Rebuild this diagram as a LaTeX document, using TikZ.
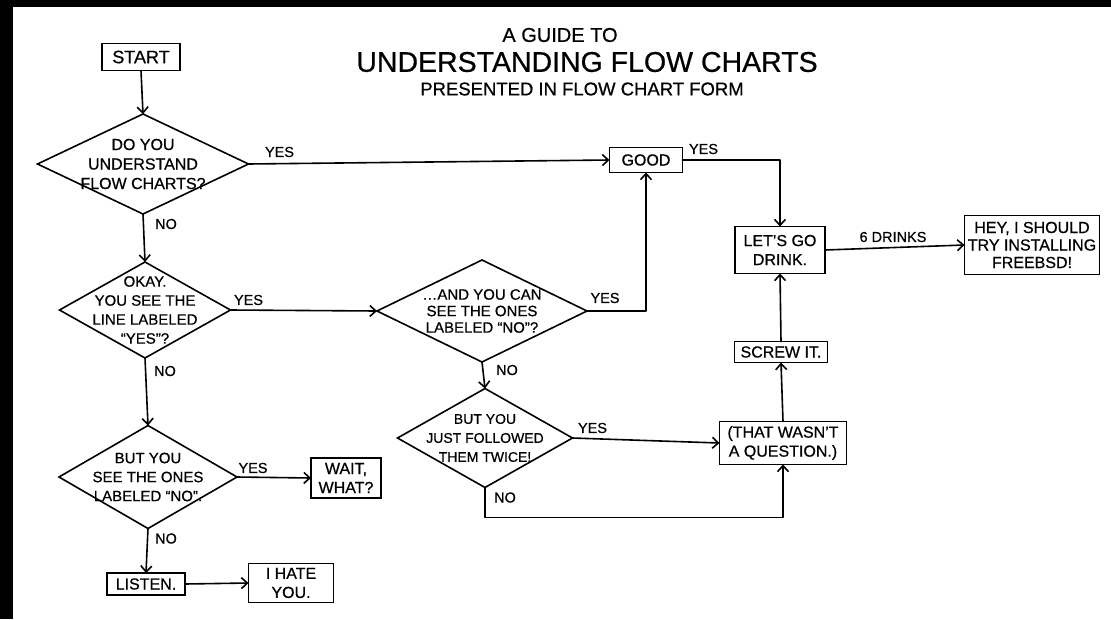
\documentclass[tikz,border=0pt]{standalone}
\usepackage{fontspec}
\setmainfont[FakeBold=0.6]{Liberation Sans}
\usetikzlibrary{arrows.meta,shapes.geometric}
\begin{document}
\begin{tikzpicture}[x=1pt,y=-1pt,
  every node/.style={text=black},
  box/.style={draw, line width=1.6pt, inner sep=0pt, outer sep=0pt, align=center, font=\fontsize{16}{19}\selectfont},
  dia/.style={draw, shape=diamond, line width=1.6pt, inner sep=0pt, outer sep=0pt},
  dtext/.style={align=center, inner sep=0pt, font=\fontsize{15}{19}\selectfont},
  lab/.style={font=\fontsize{14.5}{17}\selectfont, inner sep=0pt},
  conn/.style={line width=1.6pt, line cap=round, line join=round, -{Straight Barb[length=6pt,width=11pt]}}]
\useasboundingbox (0,0) rectangle (1111,619);
\fill[white] (0,0) rectangle (1111,619);
\fill[black] (0,0) rectangle (1111,7);
\fill[black] (0,0) rectangle (13,619);

% titles
\node[font=\fontsize{20}{24}\selectfont] (t1) at (560,35) {A GUIDE TO};
\node[font=\fontsize{28.5}{32}\selectfont] (t2) at (587,62) {UNDERSTANDING FLOW CHARTS};
\node[font=\fontsize{18.5}{22}\selectfont] (t3) at (582,89) {PRESENTED IN FLOW CHART FORM};

% boxes
\node[box, minimum width=78pt, minimum height=27pt, font=\fontsize{18}{20}\selectfont] (start) at (141,57) {START};
\node[box, minimum width=73pt, minimum height=25pt] (good) at (646,160) {GOOD};
\node[box, minimum width=90pt, minimum height=47pt] (drink) at (780,250) {LET’S GO\\DRINK.};
\node[box, minimum width=135pt, minimum height=59pt, font=\fontsize{16}{17.5}\selectfont] (hey) at (1032,245) {HEY, I SHOULD\\TRY INSTALLING\\FREEBSD!};
\node[box, minimum width=93pt, minimum height=21pt] (screw) at (781,352) {SCREW IT.};
\node[box, minimum width=127pt, minimum height=43pt] (that) at (783,443) {(THAT WASN’T\\A QUESTION.)};
\node[box, minimum width=70pt, minimum height=40pt] (wait) at (346,478) {WAIT,\\WHAT?};
\node[box, minimum width=78pt, minimum height=22pt] (listen) at (146,584) {LISTEN.};
\node[box, minimum width=85pt, minimum height=39pt] (hate) at (291,583) {I HATE\\YOU.};

% diamonds
\node[dia, minimum width=211pt, minimum height=100pt,
  label={[dtext, font=\fontsize{16}{19.5}\selectfont]center:{DO YOU\\UNDERSTAND\\FLOW CHARTS?}}] (d1) at (143,164) {};
\node[dia, minimum width=171pt, minimum height=96pt,
  label={[dtext]center:{OKAY.\\YOU SEE THE\\LINE LABELED\\“YES”?}}] (d2) at (145,310) {};
\node[dia, minimum width=210pt, minimum height=102pt,
  label={[dtext, font=\fontsize{15}{16.5}\selectfont]center:{…AND YOU CAN\\SEE THE ONES\\LABELED “NO”?}}] (d3) at (482,311) {};
\node[dia, minimum width=175pt, minimum height=99pt,
  label={[dtext, font=\fontsize{14}{19}\selectfont]center:{BUT YOU\\JUST FOLLOWED\\THEM TWICE!}}] (d4) at (485,438) {};
\node[dia, minimum width=178pt, minimum height=103pt,
  label={[dtext]center:{BUT YOU\\SEE THE ONES\\LABELED “NO”.}}] (d5) at (148,477) {};

% connectors
\draw[conn] (start.south) -- (d1.north);
\draw[conn] (d1.east) -- node[lab, pos=0, xshift=31pt, yshift=12pt] {YES} (good.west);
\draw[conn] (good.east) -- node[lab, pos=0, xshift=21pt, yshift=11pt] {YES} (good.east -| drink.north) -- (drink.north);
\draw[conn] (drink.east) -- node[lab, pos=0, xshift=68pt, yshift=13pt] {6 DRINKS} (hey.west);
\draw[conn] (d1.south) -- node[lab, pos=0, xshift=23pt, yshift=-10pt] {NO} (d2.north);
\draw[conn] (d2.east) -- node[lab, pos=0, xshift=18pt, yshift=10pt] {YES} (d3.west);
\draw[conn] (d2.south) -- node[lab, pos=0, xshift=20pt, yshift=-13pt] {NO} (d5.north);
\draw[conn] (d3.east) -- node[lab, pos=0, xshift=18pt, yshift=13pt] {YES} (d3.east -| good.south) -- (good.south);
\draw[conn] (d3.south) -- node[lab, pos=0, xshift=25pt, yshift=-8pt] {NO} (d4.north);
\draw[conn] (d4.east) -- node[lab, pos=0, xshift=20pt, yshift=10pt] {YES} (that.west);
\draw[conn] (d4.south) -- node[lab, pos=0, xshift=20pt, yshift=-10pt] {NO} ++(0,30) -| (that.south);
\draw[conn] (that.north) -- (screw.south);
\draw[conn] (screw.north) -- (drink.south);
\draw[conn] (d5.east) -- node[lab, pos=0, xshift=16pt, yshift=9pt] {YES} (wait.west);
\draw[conn] (d5.south) -- node[lab, pos=0, xshift=18pt, yshift=-10pt] {NO} (listen.north);
\draw[conn] (listen.east) -- (hate.west);
\end{tikzpicture}
\end{document}
